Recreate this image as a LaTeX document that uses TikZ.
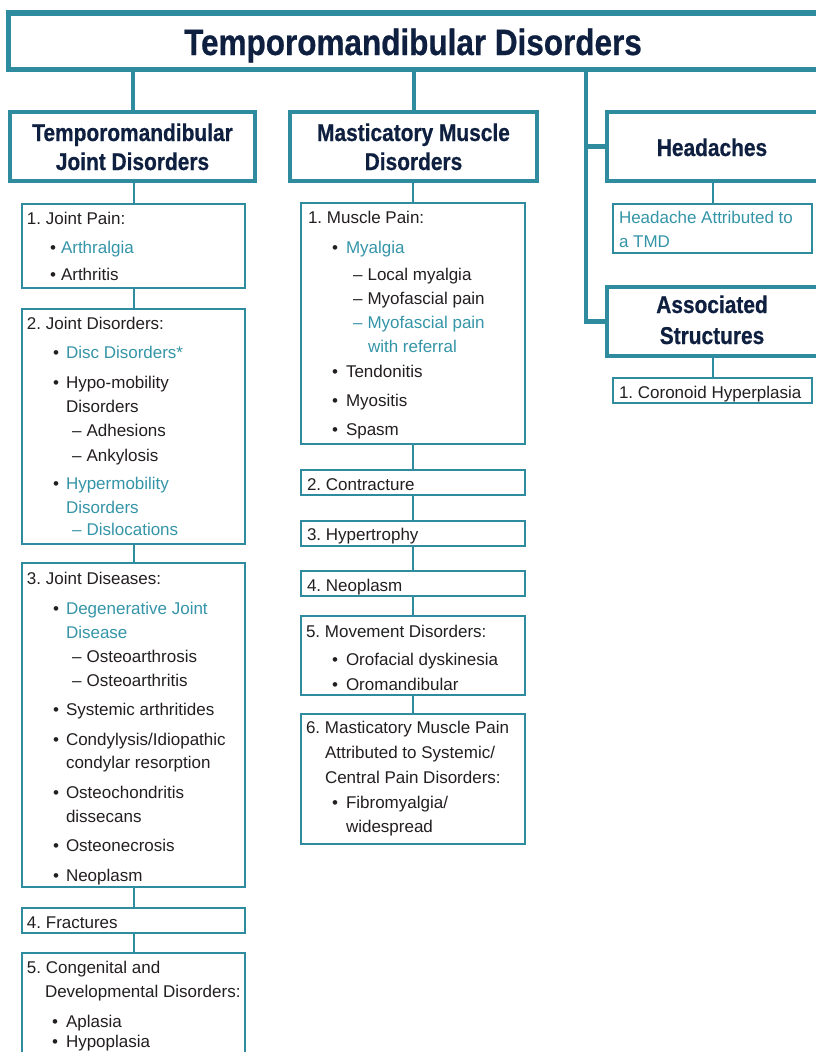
\documentclass[tikz,border=0pt]{standalone}
\usepackage{fontspec}
\setmainfont{Liberation Sans}
\newfontfamily\hdfont{Liberation Sans}[FakeStretch=0.86,FakeBold=0.6]
\frenchspacing
\definecolor{teal}{HTML}{2F8C9E}
\definecolor{tealtxt}{HTML}{3595A8}
\definecolor{navy}{HTML}{0E1F3F}
\definecolor{ink}{HTML}{231F20}
\newcommand\hl[1]{\textcolor{tealtxt}{#1}}
\newcommand\bu[2][13pt]{\makebox[#1][l]{\textcolor{ink}{•}}#2}
\newcommand\da[1]{–\hspace{0.3em}#1}
\newcommand\bodyfont{\fontsize{17}{20}\selectfont}
\newcommand\headfont{\hdfont\bfseries\fontsize{24.3}{28}\selectfont}
\newcommand\titlefont{\hdfont\bfseries\fontsize{36.6}{40}\selectfont}
\tikzset{
  txt/.style={anchor=base west, inner sep=0pt, outer sep=0pt, font=\bodyfont, text=ink},
  htxt/.style={anchor=base, inner sep=0pt, outer sep=0pt, font=\headfont, text=navy},
  thinbox/.style={draw=teal, line width=2pt, fill=white, inner sep=0pt, outer sep=0pt, anchor=north west},
  headbox/.style={draw=teal, line width=3.5pt, fill=white, inner sep=0pt, outer sep=0pt, anchor=north west, minimum height=69pt},
  titlebox/.style={draw=teal, line width=5.5pt, fill=white, inner sep=0pt, outer sep=0pt, anchor=north west},
  thinlink/.style={draw=teal, line width=2pt},
  thicklink/.style={draw=teal, line width=4pt},
  trunk/.style={draw=teal, line width=4.5pt},
}
\begin{document}
\begin{tikzpicture}[x=1pt,y=-1pt]
\path[use as bounding box] (0,0) rectangle (816,1052);
\clip (0,0) rectangle (816,1052);
\fill[white] (0,0) rectangle (816,1052);

% title
\node[titlebox, minimum width=811.5pt, minimum height=56.5pt] (title) at (8.5,13) {};
\node[anchor=base, inner sep=0pt, font=\titlefont, text=navy] (titletext) at (413,55) {Temporomandibular Disorders};

% headers
\node[headbox, minimum width=245pt] (h1) at (10,112) {};
\node[headbox, minimum width=247pt] (h2) at (290,112) {};
\node[headbox, minimum width=211.5pt] (h3) at (607,112) {};
\node[headbox, minimum width=211.5pt] (h4) at (607,287) {};
\node[htxt] (h1a) at (132.5,141) {Temporomandibular};
\node[htxt] (h1b) at (132.5,170) {Joint Disorders};
\node[htxt] (h2a) at (413.5,141) {Masticatory Muscle};
\node[htxt] (h2b) at (413.5,170) {Disorders};
\node[htxt] (h3a) at (712,156) {Headaches};
\node[htxt] (h4a) at (712,313) {Associated};
\node[htxt] (h4b) at (712,344) {Structures};

% column 1 boxes
\node[thinbox, minimum width=223pt, minimum height=84pt] (b1) at (22,204) {};
\node[thinbox, minimum width=223pt, minimum height=235pt] (b2) at (22,309) {};
\node[thinbox, minimum width=223pt, minimum height=324pt] (b3) at (22,563) {};
\node[thinbox, minimum width=223pt, minimum height=25pt] (b4) at (22,908) {};
\node[thinbox, minimum width=223pt, minimum height=122pt] (b5) at (22,953) {};

% column 2 boxes
\node[thinbox, minimum width=224pt, minimum height=241pt] (c1) at (301,203) {};
\node[thinbox, minimum width=224pt, minimum height=25pt] (c2) at (301,470) {};
\node[thinbox, minimum width=224pt, minimum height=25pt] (c3) at (301,521) {};
\node[thinbox, minimum width=224pt, minimum height=25pt] (c4) at (301,571) {};
\node[thinbox, minimum width=224pt, minimum height=79pt] (c5) at (301,616) {};
\node[thinbox, minimum width=224pt, minimum height=130pt] (c6) at (301,714) {};

% right boxes
\node[thinbox, minimum width=199pt, minimum height=49pt] (hs) at (613,204) {};
\node[thinbox, minimum width=199pt, minimum height=25pt] (cor) at (613,378) {};

% connectors
\draw[thicklink] (h1.north |- title.south) -- (h1.north);
\draw[thicklink] (h2.north |- title.south) -- (h2.north);
\coordinate (rtop) at (586,69.5);
\draw[trunk] (rtop) |- (h4.west);
\draw[trunk] (rtop |- h3.west) -- (h3.west);
\draw[thinlink] (h1.south -| b1.north) -- (b1.north);
\draw[thinlink] (b1.south) -- (b2.north);
\draw[thinlink] (b2.south) -- (b3.north);
\draw[thinlink] (b3.south) -- (b4.north);
\draw[thinlink] (b4.south) -- (b5.north);
\draw[thinlink] (h2.south -| c1.north) -- (c1.north);
\draw[thinlink] (c1.south) -- (c2.north);
\draw[thinlink] (c2.south) -- (c3.north);
\draw[thinlink] (c3.south) -- (c4.north);
\draw[thinlink] (c4.south) -- (c5.north);
\draw[thinlink] (c5.south) -- (c6.north);
\draw[thinlink] (h3.south -| hs.north) -- (hs.north);
\draw[thinlink] (h4.south -| cor.north) -- (cor.north);

% column 1 text
\node[txt] (b1t1) at (27,224) {1. Joint Pain:};
\node[txt] (b1t2) at (50,253) {\bu[11pt]{\hl{Arthralgia}}};
\node[txt] (b1t3) at (50,280) {\bu[11pt]{Arthritis}};

\node[txt] (b2t1) at (27,329) {2. Joint Disorders:};
\node[txt] (b2t2) at (53,358) {\bu{\hl{Disc Disorders*}}};
\node[txt] (b2t3) at (53,388) {\bu{Hypo-mobility}};
\node[txt] (b2t4) at (66,412) {Disorders};
\node[txt] (b2t5) at (72,436) {\da{Adhesions}};
\node[txt] (b2t6) at (72,461) {\da{Ankylosis}};
\node[txt] (b2t7) at (53,489) {\bu{\hl{Hypermobility}}};
\node[txt] (b2t8) at (66,513) {\hl{Disorders}};
\node[txt] (b2t9) at (72,535) {\hl{\da{Dislocations}}};

\node[txt] (b3t1) at (27,584) {3. Joint Diseases:};
\node[txt] (b3t2) at (53,614) {\bu{\hl{Degenerative Joint}}};
\node[txt] (b3t3) at (66,638) {\hl{Disease}};
\node[txt] (b3t4) at (72,662) {\da{Osteoarthrosis}};
\node[txt] (b3t5) at (72,686) {\da{Osteoarthritis}};
\node[txt] (b3t6) at (53,715) {\bu{Systemic arthritides}};
\node[txt] (b3t7) at (53,745) {\bu{Condylysis/Idiopathic}};
\node[txt] (b3t8) at (66,768) {condylar resorption};
\node[txt] (b3t9) at (53,798) {\bu{Osteochondritis}};
\node[txt] (b3t10) at (66,822) {dissecans};
\node[txt] (b3t11) at (53,851) {\bu{Osteonecrosis}};
\node[txt] (b3t12) at (53,881) {\bu{Neoplasm}};

\node[txt] (b4t1) at (27,928) {4. Fractures};

\node[txt] (b5t1) at (27,973) {5. Congenital and};
\node[txt] (b5t2) at (45,997) {Developmental Disorders:};
\node[txt] (b5t3) at (52,1027) {\bu[14pt]{Aplasia}};
\node[txt] (b5t4) at (52,1047) {\bu[14pt]{Hypoplasia}};

% column 2 text
\node[txt] (c1t1) at (308,223) {1. Muscle Pain:};
\node[txt] (c1t2) at (332,253) {\bu[14pt]{\hl{Myalgia}}};
\node[txt] (c1t3) at (353,280) {\da{Local myalgia}};
\node[txt] (c1t4) at (353,304) {\da{Myofascial pain}};
\node[txt] (c1t5) at (353,328) {\hl{\da{Myofascial pain}}};
\node[txt] (c1t6) at (368,352) {\hl{with referral}};
\node[txt] (c1t7) at (332,377) {\bu[14pt]{Tendonitis}};
\node[txt] (c1t8) at (332,406) {\bu[14pt]{Myositis}};
\node[txt] (c1t9) at (332,435) {\bu[14pt]{Spasm}};

\node[txt] (c2t1) at (307,490) {2. Contracture};
\node[txt] (c3t1) at (307,540) {3. Hypertrophy};
\node[txt] (c4t1) at (307,591) {4. Neoplasm};

\node[txt] (c5t1) at (306,637) {5. Movement Disorders:};
\node[txt] (c5t2) at (332,665) {\bu[14pt]{Orofacial dyskinesia}};
\node[txt] (c5t3) at (332,690) {\bu[14pt]{Oromandibular}};

\node[txt] (c6t1) at (306,733) {6. Masticatory Muscle Pain};
\node[txt] (c6t2) at (325,758) {Attributed to Systemic/};
\node[txt] (c6t3) at (325,783) {Central Pain Disorders:};
\node[txt] (c6t4) at (332,808) {\bu[14pt]{Fibromyalgia/}};
\node[txt] (c6t5) at (346,832) {widespread};

% right text
\node[txt] (hst1) at (619,223) {\hl{Headache Attributed to}};
\node[txt] (hst2) at (619,247) {\hl{a TMD}};
\node[txt] (cort1) at (619,398) {1. Coronoid Hyperplasia};
\end{tikzpicture}
\end{document}
